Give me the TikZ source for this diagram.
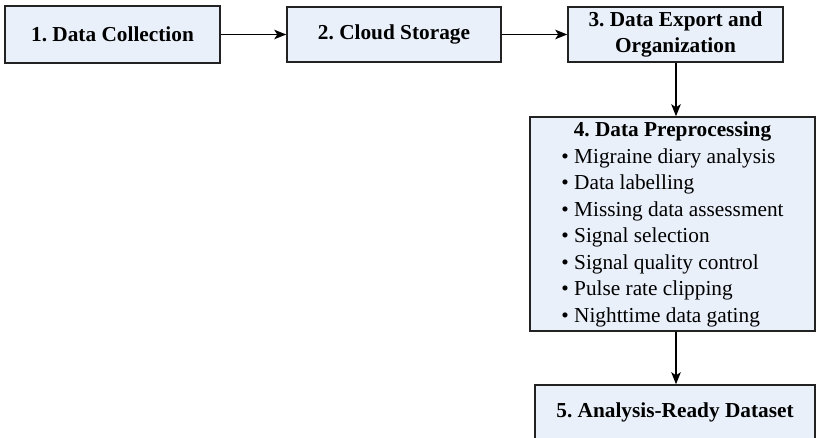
\documentclass[tikz,border=0pt]{standalone}
\usepackage{fontspec}
\setmainfont{Liberation Serif}
\frenchspacing
\usetikzlibrary{arrows.meta}
\definecolor{boxfill}{RGB}{233,240,250}
\definecolor{boxline}{RGB}{34,34,34}
\tikzset{
  stagebox/.style={draw=boxline, fill=boxfill, line width=1.5pt, inner sep=0pt,
    align=center, font=\fontsize{21.3}{26.5}\selectfont\bfseries},
  flow/.style={draw=black, line width=1.4pt,
    -{Stealth[length=12pt, width=9.5pt, inset=3pt]}}
}
\begin{document}
\begin{tikzpicture}[x=1pt, y=-1pt]
\useasboundingbox (0,0) rectangle (816,438);

\node[stagebox, minimum width=215pt, minimum height=57pt] (s1) at (112.5,34.5) {1. Data Collection};
\node[stagebox, minimum width=214pt, minimum height=55pt] (s2) at (394,34.5) {2. Cloud Storage};
\node[stagebox, minimum width=215pt, minimum height=55pt] (s3) at (675.5,34.5) {3. Data Export and\\Organization};
\node[stagebox, minimum width=285pt, minimum height=214pt, font=\fontsize{21.3}{26.5}\selectfont] (s4) at (672.5,224)
  {\begin{tabular}{@{}l@{}}
   \multicolumn{1}{@{}c@{}}{\bfseries 4. Data Preprocessing}\\
   • Migraine diary analysis\\
   • Data labelling\\
   • Missing data assessment\\
   • Signal selection\\
   • Signal quality control\\
   • Pulse rate clipping\\
   • Nighttime data gating
   \end{tabular}};
\node[stagebox, minimum width=280pt, minimum height=55pt] (s5) at (675,412.5) {5. Analysis-Ready Dataset};

\draw[flow] (s1) -- (s2);
\draw[flow] (s2) -- (s3);
\draw[flow] (s3.south -| 676,0) -- (s4.north -| 676,0);
\draw[flow] (s4.south -| 676,0) -- (s5.north -| 676,0);
\end{tikzpicture}
\end{document}
